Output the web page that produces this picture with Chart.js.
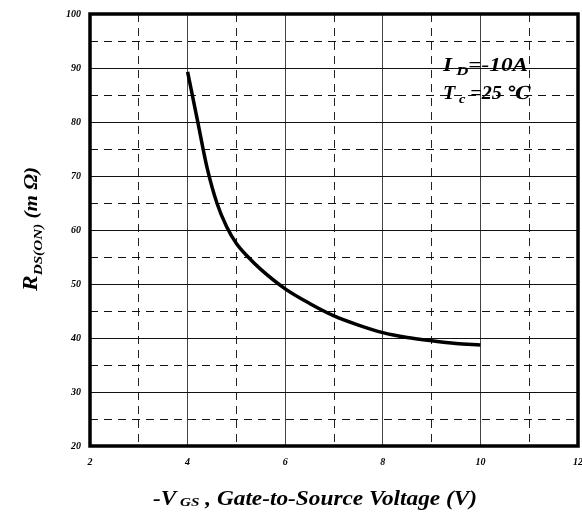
<!DOCTYPE html>
<html lang="en">
<head>
  <meta charset="UTF-8">
  <title>RDS(ON) vs VGS</title>
  <script src="https://cdn.jsdelivr.net/npm/chart.js"></script>
  <style>
    body { margin: 0; background: #fff; }
    #wrap { width: 582px; height: 513px; }
  </style>
  <script>
    // values
    const vgs = [4, 4.2, 4.4, 4.6, 4.8, 5, 5.25, 5.5, 6, 6.5, 7, 7.5, 8, 8.5, 9, 9.5, 10];
    const rds = [89.3, 80.4, 71.5, 65.0, 60.6, 57.5, 54.9, 52.7, 49.1, 46.4, 44.1, 42.4, 41.0, 40.1, 39.5, 39.0, 38.7];
    const xTicks = [2, 4, 6, 8, 10, 12];
    const yTicks = [20, 30, 40, 50, 60, 70, 80, 90, 100];

    const serif = '"Liberation Serif", "DejaVu Serif", serif';

    // draw a run of text pieces (subscripts smaller and lowered), stretched to a width
    function drawRich(ctx, parts, x, y, align, width) {
      let total = 0;
      parts.forEach(p => {
        ctx.font = 'italic bold ' + p.size + 'px ' + serif;
        p.w = ctx.measureText(p.t).width;
        total += p.w;
      });
      const k = width ? width / total : 1;
      ctx.save();
      ctx.translate(align === 'center' ? x - total * k / 2 : x, y);
      ctx.scale(k, 1);
      ctx.textAlign = 'left';
      ctx.textBaseline = 'alphabetic';
      let cx = 0;
      parts.forEach(p => {
        ctx.font = 'italic bold ' + p.size + 'px ' + serif;
        ctx.fillText(p.t, cx, p.dy || 0);
        cx += p.w;
      });
      ctx.restore();
    }

    const extras = {
      id: 'extras',
      afterDraw(chart) {
        const ctx = chart.ctx;
        const a = chart.chartArea;
        ctx.save();
        // heavy frame
        ctx.strokeStyle = '#000';
        ctx.lineWidth = 3.5;
        ctx.strokeRect(a.left, a.top, a.right - a.left, a.bottom - a.top);
        ctx.fillStyle = '#000';

        // x title
        drawRich(ctx, [
          { t: '-V', size: 20 },
          { t: ' GS', size: 13, dy: 1 },
          { t: ' , Gate-to-Source Voltage (V)', size: 20 }
        ], 315, 505, 'center', 324);

        // y title, rotated
        ctx.save();
        ctx.translate(37, 229);
        ctx.rotate(-Math.PI / 2);
        drawRich(ctx, [
          { t: 'R', size: 20 },
          { t: 'DS(ON)', size: 13, dy: 5 },
          { t: ' (m \u03A9)', size: 18 }
        ], 0, 0, 'center', 124);
        ctx.restore();

        // conditions
        drawRich(ctx, [
          { t: 'I', size: 18 },
          { t: ' D', size: 13, dy: 4 },
          { t: '=-10A', size: 18 }
        ], 443, 71, 'left', 85);
        drawRich(ctx, [
          { t: 'T', size: 18 },
          { t: ' c', size: 13, dy: 4 },
          { t: ' =25 \u2103', size: 18 }
        ], 443, 99, 'left', 88);
        ctx.restore();
      }
    };

    function initChart() {
      const ctx = document.getElementById('c').getContext('2d');
      new Chart(ctx, {
        type: 'line',
        data: {
          datasets: [{
            data: vgs.map((v, i) => ({ x: v, y: rds[i] })),
            borderColor: '#000',
            borderWidth: 3.5,
            pointRadius: 0,
            cubicInterpolationMode: 'monotone',
            fill: false
          }]
        },
        options: {
          responsive: false,
          animation: false,
          layout: { autoPadding: false, padding: { top: 14, right: 4, left: 0, bottom: 0 } },
          plugins: { legend: { display: false }, tooltip: { enabled: false } },
          scales: {
            x: {
              type: 'linear',
              min: xTicks[0],
              max: xTicks[xTicks.length - 1],
              afterFit(s) { s.height = 67; s.paddingLeft = 0; s.paddingRight = 0; },
              ticks: {
                stepSize: 1,
                padding: 10,
                maxRotation: 0,
                autoSkip: false,
                color: '#000',
                font: { family: serif, size: 10, style: 'italic', weight: 'bold' },
                callback: v => xTicks.includes(v) ? String(v) : ''
              },
              grid: {
                drawTicks: false,
                color: c => xTicks.includes(c.tick.value) ? '#444' : '#222',
                lineWidth: 1
              },
              border: {
                display: false,
                dash: c => (c.tick && xTicks.includes(c.tick.value)) ? [] : [8, 6]
              }
            },
            y: {
              min: yTicks[0],
              max: yTicks[yTicks.length - 1],
              afterFit(s) { s.width = 90; s.paddingTop = 0; s.paddingBottom = 0; },
              ticks: {
                stepSize: 5,
                padding: 9,
                autoSkip: false,
                color: '#000',
                font: { family: serif, size: 10, style: 'italic', weight: 'bold' },
                callback: v => yTicks.includes(v) ? String(v) : ''
              },
              grid: {
                drawTicks: false,
                color: '#111',
                lineWidth: 1
              },
              border: {
                display: false,
                dash: c => (c.tick && yTicks.includes(c.tick.value)) ? [] : [8, 6]
              }
            }
          }
        },
        plugins: [extras]
      });
    }

    window.onload = initChart;
  </script>
</head>
<body>
  <div id="wrap">
    <canvas id="c" width="582" height="513"></canvas>
  </div>
</body>
</html>
